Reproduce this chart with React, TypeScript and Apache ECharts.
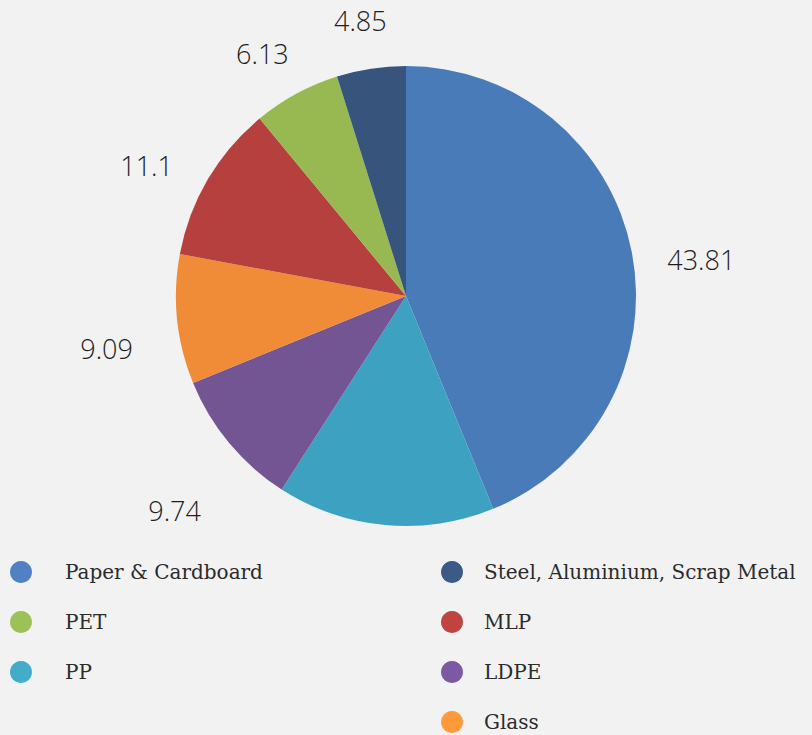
import React, { useEffect, useRef } from "react";
import * as echarts from "echarts";

const categories = ["Paper & Cardboard", "PP", "LDPE", "Glass", "MLP", "PET", "Steel, Aluminium, Scrap Metal"];
const values = [43.81, 15.28, 9.74, 9.09, 11.1, 6.13, 4.85];
const showValueLabel = [true, false, true, true, true, true, true];
const sliceColors = ["#4a7bb9", "#3da2c1", "#745593", "#f08b38", "#b5403e", "#98b951", "#36547c"];
const legendColors = ["#4f81c4", "#42adcb", "#7b5aa1", "#ff9a3b", "#c0433f", "#9bc256", "#3b5a87"];
const legendLeft = ["Paper & Cardboard", "PET", "PP"];
const legendRight = ["Steel, Aluminium, Scrap Metal", "MLP", "LDPE", "Glass"];

export default function App() {
  const ref = useRef<HTMLDivElement>(null);
  useEffect(() => {
    if (!ref.current) return;
    const chart = echarts.init(ref.current, undefined, { renderer: "svg" });
    const legendItem = (name: string) => ({
      name,
      itemStyle: { color: legendColors[categories.indexOf(name)] },
    });
    const legendText = {
      fontFamily: "DejaVu Serif",
      fontSize: 20,
      color: "#2b2b2b",
    };
    chart.setOption({
      animation: false,
      backgroundColor: "#f2f2f2",
      legend: [
        {
          orient: "vertical",
          left: 10,
          top: 561,
          icon: "circle",
          itemWidth: 22,
          itemHeight: 22,
          itemGap: 28,
          padding: 0,
          data: legendLeft.map(legendItem),
          textStyle: { ...legendText, padding: [0, 0, 0, 28] },
        },
        {
          orient: "vertical",
          left: 441,
          top: 561,
          icon: "circle",
          itemWidth: 22,
          itemHeight: 22,
          itemGap: 28,
          padding: 0,
          data: legendRight.map(legendItem),
          textStyle: { ...legendText, padding: [0, 0, 0, 16] },
        },
      ],
      series: [
        {
          type: "pie",
          center: [406, 296],
          radius: 230,
          startAngle: 90,
          clockwise: true,
          label: { show: false },
          labelLine: { show: false },
          emphasis: { disabled: true },
          data: categories.map((name, i) => ({
            name,
            value: values[i],
            itemStyle: { color: sliceColors[i] },
          })),
        },
        {
          type: "pie",
          center: [406, 318],
          radius: [0, 596],
          startAngle: 90,
          clockwise: true,
          silent: true,
          z: 5,
          itemStyle: { color: "rgba(0,0,0,0)" },
          labelLine: { show: false },
          emphasis: { disabled: true },
          label: {
            show: true,
            position: "inside",
            formatter: "{c}",
            fontFamily: "Open Sans",
            fontWeight: 300,
            fontSize: 27,
            color: "#1e1e1e",
          },
          data: categories.map((name, i) => ({
            name,
            value: values[i],
            label: { show: showValueLabel[i] },
          })),
        },
      ],
    });
    return () => chart.dispose();
  }, []);
  return (
    <div
      ref={ref}
      style={{ position: "fixed", left: 0, top: 0, width: 812, height: 735 }}
    />
  );
}
